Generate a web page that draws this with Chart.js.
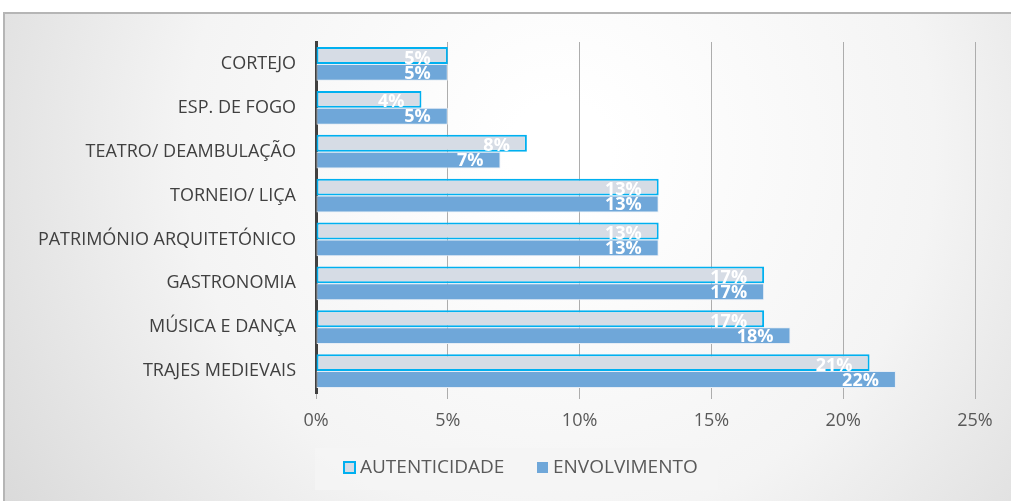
<!DOCTYPE html>
<html><head><meta charset="utf-8">
<script src="https://cdn.jsdelivr.net/npm/chart.js@4"></script>
<style>html,body{margin:0;padding:0;background:#fff}#wrap{width:1011px;height:501px;position:relative}</style>
</head><body><div id="wrap"><canvas id="c"></canvas></div>
<script>
const categories = ["CORTEJO","ESP. DE FOGO","TEATRO/ DEAMBULAÇÃO","TORNEIO/ LIÇA","PATRIMÓNIO ARQUITETÓNICO","GASTRONOMIA","MÚSICA E DANÇA","TRAJES MEDIEVAIS"];
const autenticidade = [5,4,8,13,13,17,17,21];
const envolvimento = [5,5,7,13,13,17,18,22];
const xTicks = [0,5,10,15,20,25];

const bgPlugin = {
  id:'bg',
  beforeDraw(chart){
    const ctx = chart.ctx;
    ctx.save();
    ctx.fillStyle='#fff'; ctx.fillRect(0,0,1011,501);
    const g = ctx.createRadialGradient(560,150,50,560,150,700);
    g.addColorStop(0,'#ffffff'); g.addColorStop(0.5,'#f4f4f4'); g.addColorStop(1,'#d6d6d6');
    ctx.fillStyle=g; ctx.fillRect(3,12,1008,489);
    ctx.strokeStyle='#b5b5b5'; ctx.lineWidth=2;
    ctx.beginPath(); ctx.moveTo(4,501); ctx.lineTo(4,13); ctx.lineTo(1011,13); ctx.stroke();
    ctx.fillStyle='rgba(245,245,245,0.85)'; ctx.fillRect(315,448,403,42);
    ctx.restore();
  },
  afterDatasetsDraw(chart){
    const ctx = chart.ctx;
    ctx.save();
    ctx.font='bold 18px "Open Sans"';
    ctx.fillStyle='#ffffff';
    ctx.textAlign='right'; ctx.textBaseline='middle';
    chart.data.datasets.forEach((ds,di)=>{
      chart.getDatasetMeta(di).data.forEach((bar,i)=>{
        ctx.fillText(ds.data[i]+'%', bar.x-17, bar.y+(di===0?3:1));
      });
    });
    ctx.restore();
  },
  afterDraw(chart){
    const ctx = chart.ctx;
    ctx.save();
    ctx.font='19px "Open Sans"'; ctx.textBaseline='middle'; ctx.textAlign='left';
    const items=[{x:344,ds:chart.data.datasets[0]},{x:537,ds:chart.data.datasets[1]}];
    items.forEach(it=>{
      ctx.fillStyle=it.ds.backgroundColor;
      ctx.fillRect(it.x,462,11,11);
      if(it.ds.borderWidth>1){ctx.strokeStyle=it.ds.borderColor;ctx.lineWidth=2;ctx.strokeRect(it.x,462,11,11);}
      ctx.fillStyle='#595959';
      ctx.fillText(it.ds.label,it.x+16,468);
    });
    ctx.restore();
  }
};

new Chart(document.getElementById('c'),{
  type:'bar',
  data:{labels:categories,datasets:[
    {label:'AUTENTICIDADE',data:autenticidade,backgroundColor:'#d6dce5',borderColor:'#00b0f0',borderWidth:2,borderSkipped:false,categoryPercentage:0.77,barPercentage:1},
    {label:'ENVOLVIMENTO',data:envolvimento,backgroundColor:'#6fa7d9',borderColor:'#e6edf5',borderWidth:1,borderSkipped:false,categoryPercentage:0.77,barPercentage:1}
  ]},
  options:{
    indexAxis:'y',responsive:true,maintainAspectRatio:false,animation:false,
    layout:{padding:{top:42,right:36,left:0,bottom:72}},
    plugins:{legend:{display:false},tooltip:{enabled:false}},
    scales:{
      x:{min:0,max:25,afterBuildTicks(s){s.ticks=xTicks.map(v=>({value:v}));},
        ticks:{callback:v=>v+'%',color:'#595959',font:{family:'Open Sans',size:18},padding:11,maxRotation:0},
        grid:{color:'#adadad',lineWidth:1,tickLength:6,drawTicks:true},
        border:{display:false},
        afterFit(s){s.height=36;}
      },
      y:{ticks:{color:'#404040',font:{family:'Open Sans',size:18},padding:20},
        grid:{display:false,drawTicks:false},
        border:{display:true,color:'#404040',width:3},
        afterFit(s){s.width=316;}
      }
    }
  },
  plugins:[bgPlugin]
});
</script></body></html>
